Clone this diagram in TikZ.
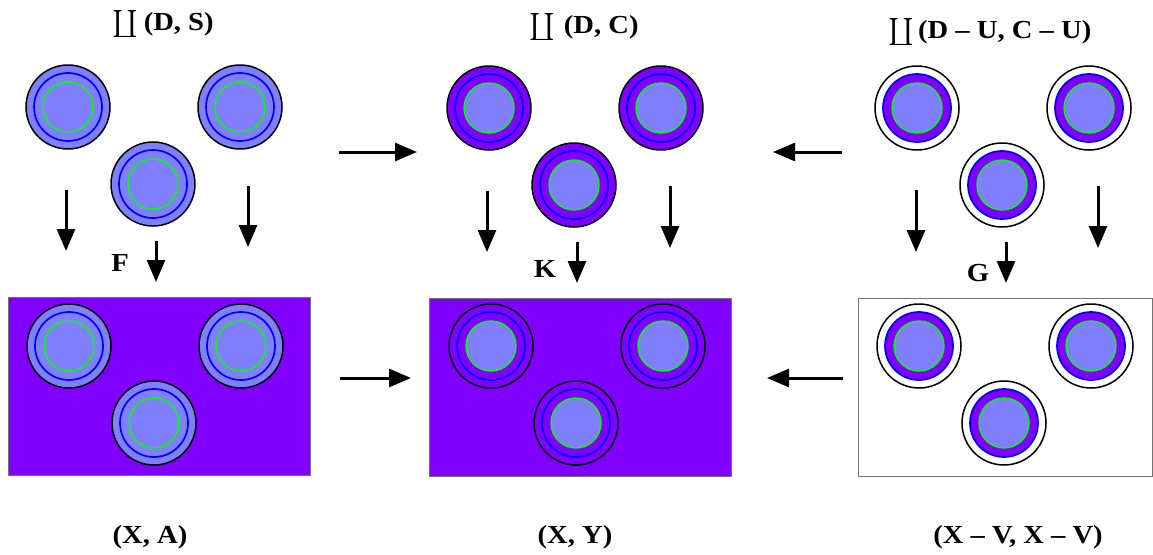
\documentclass[tikz,border=0pt]{standalone}
\usepackage{fontspec}
\setmainfont{Liberation Serif}[FakeStretch=1.1]
\usepackage{graphicx}
\usetikzlibrary{arrows.meta}
\definecolor{lblue}{RGB}{128,128,255}
\definecolor{vio}{RGB}{127,0,255}
\newcommand{\cop}{\raisebox{-11pt}{\scalebox{2.7}{$\coprod$}}}

\begin{document}
\begin{tikzpicture}[x=1pt, y=-1pt,
  ring/.style={circle, inner sep=0pt, line width=1.5pt},
  sOut/.style={ring, draw=black, fill=lblue, minimum size=84pt},
  mOut/.style={ring, draw=black, fill=vio, minimum size=84pt},
  uOut/.style={ring, draw=black, fill=white, minimum size=84pt},
  yOut/.style={ring, draw=black, minimum size=84pt},
  bring/.style={ring, draw=blue, line width=1.7pt, minimum size=68pt},
  uring/.style={ring, draw=blue, line width=1.7pt, fill=vio, minimum size=68pt},
  core/.style={ring, draw=green, line width=1.4pt, fill=lblue, minimum size=50pt},
  space/.style={draw=black!55, line width=1pt, minimum width=302pt, minimum height=178pt, inner sep=0pt},
  lbl/.style={font=\fontsize{26}{30}\selectfont\bfseries, inner sep=0pt, anchor=base},
  arr/.style={-{Triangle[length=22pt,width=18pt]}, line width=3pt},
]
\useasboundingbox (0,0) rectangle (1153,554);

% === bottom spaces ===
\node[space, fill=vio] (XA) at (159,386) {};
\node[space, fill=vio] (XY) at (580,387) {};
\node[space, fill=white, minimum width=294pt] (XV) at (1005,387) {};

% === three disks per panel ===
\foreach \p/\x/\y/\os/\bs in {DS/68/107/sOut/bring, DC/489/108/mOut/bring, DU/917/108/uOut/uring,
                              XA/69/346/sOut/bring, XY/491/346/yOut/bring, XV/919/346/uOut/uring}{
  \foreach \k/\dx/\dy in {1/0/0, 2/172/0, 3/85/77}{
    \node[style=\os] (\p\k o) at (\x+\dx,\y+\dy) {};
    \node[style=\bs] (\p\k b) at (\p\k o) {};
    \node[core]      (\p\k g) at (\p\k o) {};
  }
}

% === titles and labels ===
\node[lbl] (tDS) at (163,30) {\cop\hspace{6pt}(D, S)};
\node[lbl] (tDC) at (584,33) {\cop\hspace{9pt}(D, C)};
\node[lbl] (tDU) at (990,38) {\cop\hspace{4pt}(D -- U, C -- U)};
\node[lbl] (lXA) at (150,543) {(X, A)};
\node[lbl] (lXY) at (575,543) {(X, Y)};
\node[lbl] (lXV) at (1018,543) {(X -- V, X -- V)};
\node[lbl] (mF) at (120,271) {F};
\node[lbl] (mK) at (545,277) {K};
\node[lbl] (mG) at (978,281) {G};

% === arrows ===
\foreach \nm/\xa/\ya/\xb/\yb in {a1/66/190/66/251, a2/248/186/248/247, a3/156/241/156/282,
                                 b1/487/191/487/252, b2/670/186/670/248, b3/577/242/577/283,
                                 c1/916/190/916/252, c2/1098/186/1098/248, c3/1006/242/1006/283,
                                 h1/339/152/417/152, h2/842/152/773/152,
                                 h3/340/378/411/378, h4/843/378/767/378}{
  \coordinate (\nm s) at (\xa,\ya);
  \coordinate (\nm e) at (\xb,\yb);
  \draw[arr] (\nm s) -- (\nm e);
}
\end{tikzpicture}
\end{document}
